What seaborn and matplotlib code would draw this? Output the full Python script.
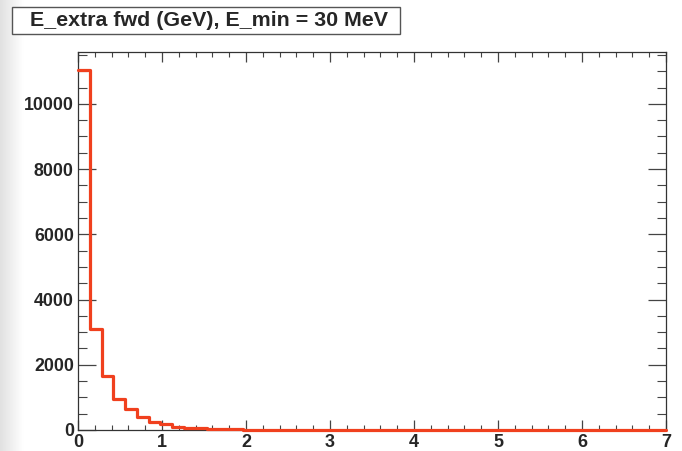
import matplotlib
matplotlib.use("Agg")
import matplotlib.pyplot as plt
from matplotlib.patches import FancyBboxPatch
from matplotlib.ticker import MultipleLocator
import seaborn as sns
import numpy as np
import pandas as pd

# histogram: 50 bins of 0.14 GeV from 0 to 7
bin_width = 0.14
n_bins = 50
counts = [11040, 3100, 1670, 950, 650, 410, 260, 180, 100, 70,
          50, 35, 25, 20, 15, 12, 10, 8, 7, 6,
          5, 5, 4, 4, 3, 3, 3, 2, 2, 2,
          2, 2, 1, 1, 1, 1, 1, 1, 1, 1,
          1, 1, 1, 1, 1, 1, 1, 1, 1, 1]
title = "E_extra fwd (GeV), E_min = 30 MeV"
x_ticks = [0, 1, 2, 3, 4, 5, 6, 7]
y_ticks = [0, 2000, 4000, 6000, 8000, 10000]

edges = [round(i * bin_width, 4) for i in range(n_bins + 1)]
df = pd.DataFrame({
    "E": [e + bin_width / 2 for e in edges[:-1]],
    "n": counts,
})

sns.set_style("ticks")
plt.rcParams["font.family"] = ["Liberation Sans", "DejaVu Sans"]

fig = plt.figure(figsize=(6.82, 4.51), dpi=100)
fig.patch.set_facecolor("white")

# light grey strip of the screenshot on the left
bg = fig.add_axes([0, 0, 0.035, 1], zorder=-5)
grad = np.linspace(0.88, 1.0, 64).reshape(1, -1)
bg.imshow(grad, cmap="gray", vmin=0, vmax=1, aspect="auto", extent=[0, 1, 0, 1])
bg.axis("off")

ax = fig.add_axes([78 / 682, 1 - 430 / 451, (666 - 78) / 682, (430 - 52) / 451])

sns.histplot(data=df, x="E", weights="n", bins=edges, element="step", fill=False,
             color="#f0401e", linewidth=2.3, ax=ax, zorder=3, clip_on=False)

ax.set_xlim(0, 7)
ax.set_ylim(0, 11590)
ax.set_xticks(x_ticks)
ax.set_yticks(y_ticks)
ax.xaxis.set_minor_locator(MultipleLocator(0.2))
ax.yaxis.set_minor_locator(MultipleLocator(500))
ax.set_xlabel("")
ax.set_ylabel("")

for s in ax.spines.values():
    s.set_visible(True)
    s.set_linewidth(0.9)
    s.set_color("#333333")
    s.set_zorder(2)

ax.tick_params(axis="x", which="major", direction="in", length=7.5, width=0.9,
               top=True, bottom=True, labelsize=13, pad=3, color="#444444")
ax.tick_params(axis="x", which="minor", direction="in", length=3.8, width=0.8,
               top=True, bottom=True, color="#444444")
ax.tick_params(axis="y", which="major", direction="in", length=13, width=0.9,
               left=True, right=True, labelsize=12.8, pad=3, color="#444444")
ax.tick_params(axis="y", which="minor", direction="in", length=6.5, width=0.8,
               left=True, right=True, color="#444444")
for lab in ax.get_xticklabels() + ax.get_yticklabels():
    lab.set_fontweight("bold")

# title box in ROOT style
box = FancyBboxPatch((12 / 682, 1 - 34 / 451), (400 - 12) / 682, 27 / 451,
                     boxstyle="square,pad=0", transform=fig.transFigure,
                     facecolor="white", edgecolor="#555555", linewidth=1.0)
fig.patches.append(box)
fig.text(209 / 682, 1 - 21 / 451, title, ha="center", va="center",
         fontsize=15.4, fontweight="bold")

fig.savefig("out.png", dpi=100)
